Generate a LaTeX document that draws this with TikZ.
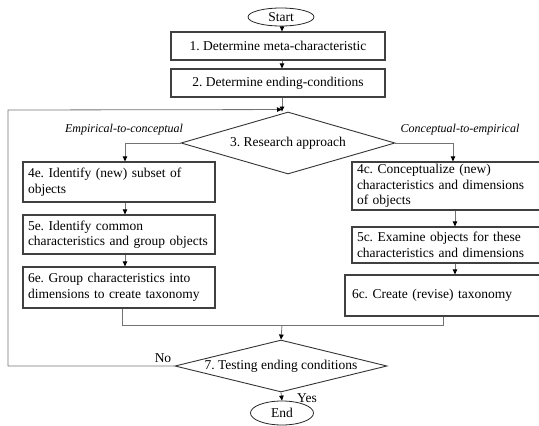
\documentclass[tikz,border=0pt]{standalone}
\usepackage{fontspec}
\setmainfont{Liberation Serif}
\usetikzlibrary{shapes.geometric,arrows.meta,calc}
\begin{document}
\frenchspacing
\hyphenpenalty=10000
\begin{tikzpicture}[x=1pt,y=-1pt,
  every node/.style={font=\fontsize{13.5}{15.5}\selectfont},
  term/.style={ellipse,draw=black!85,line width=0.8pt,inner sep=0pt,minimum width=66pt,minimum height=18pt},
  proc/.style={rectangle,draw=black!75,line width=1.2pt,inner sep=0pt},
  cbox/.style={proc,align=center},
  lbox/.style={proc,align=left,text width=#1,inner xsep=5pt},
  dec/.style={diamond,draw=black!80,line width=0.9pt,inner sep=0pt},
  conn/.style={draw=black!55,line width=0.8pt},
  arr/.style={conn,-{Triangle[length=5pt,width=4.5pt,fill=black,color=black]}},
  lab/.style={font=\fontsize{12}{14}\selectfont\itshape}
]
\useasboundingbox (0,0) rectangle (539,426);
\clip (0,0) rectangle (539,426);

\node[term] (start) at (281,17) {Start};
\node[cbox,minimum width=214pt,minimum height=28pt] (b1) at (278,46) {1. Determine meta-characteristic};
\node[cbox,minimum width=214pt,minimum height=28pt] (b2) at (278,83) {2. Determine ending-conditions};
\node[dec,minimum width=214pt,minimum height=62pt,label={[inner sep=0pt]center:3. Research approach}] (d3) at (288,143) {};

\node[lbox=182pt,minimum height=40pt] (b4e) at (119,182) {4e. Identify (new) subset of\\objects};
\node[lbox=182pt,minimum height=39pt] (b5e) at (119,234.5) {5e. Identify common\\characteristics and group objects};
\node[lbox=182pt,minimum height=41pt] (b6e) at (119,287.5) {6e. Group characteristics into\\dimensions to create taxonomy};

\node[lbox=183pt,minimum height=48pt] (b4c) at (448.5,186) {4c. Conceptualize (new)\\characteristics and dimensions\\of objects};
\node[lbox=183pt,minimum height=36pt] (b5c) at (448.5,245) {5c. Examine objects for these\\characteristics and dimensions};
\node[lbox=183pt,minimum height=41pt,inner xsep=7pt] (b6c) at (443.5,295.5) {6c. Create (revise) taxonomy};

\node[dec,minimum width=212pt,minimum height=52pt,label={[inner sep=0pt]center:7. Testing ending conditions}] (d7) at (281,366) {};
\node[term,minimum width=63pt,minimum height=24pt] (end) at (282,413) {End};

\node[lab] (le) at (124,130) {Empirical-to-conceptual};
\node[lab] (lc) at (460,130) {Conceptual-to-empirical};
\node (no) at (163,358) {No};
\node (yes) at (307,398) {Yes};

\coordinate (j3) at ($(d3.north)+(-6,-2)$);
\coordinate (lt) at (8,110);
\coordinate (lb) at (8,366);
\coordinate (jm) at (282,325);

\draw[arr] (start.south -| 282,0) -- (b1.north -| 282,0);
\draw[arr] (b1.south -| 282,0) -- (b2.north -| 282,0);
\draw[arr] (b2.south -| j3) -- (j3 |- d3.north);
\draw[arr] (d7.west) -- (lb) -- (lt) -- (j3);

\draw[arr] (d3.west) -| ($(b4e.north)+(6,0)$);
\draw[arr] (d3.east) -| ($(b4c.north)+(4.5,0)$);
\draw[arr] ($(b4e.south)+(6,0)$) -- ($(b5e.north)+(6,0)$);
\draw[arr] ($(b5e.south)+(6,0)$) -- ($(b6e.north)+(6,0)$);
\draw[arr] ($(b4c.south)+(6.5,0)$) -- ($(b5c.north)+(6.5,0)$);
\draw[arr] ($(b5c.south)+(6.5,0)$) -- ($(b6c.north)+(11.5,0)$);

\draw[conn] ($(b6e.south)+(3,0)$) |- (jm);
\draw[conn] (b6c.south) |- (jm);
\draw[arr] (jm) -- (d7.north);
\draw[arr] (d7.south) -- (end.north);
\end{tikzpicture}
\end{document}
